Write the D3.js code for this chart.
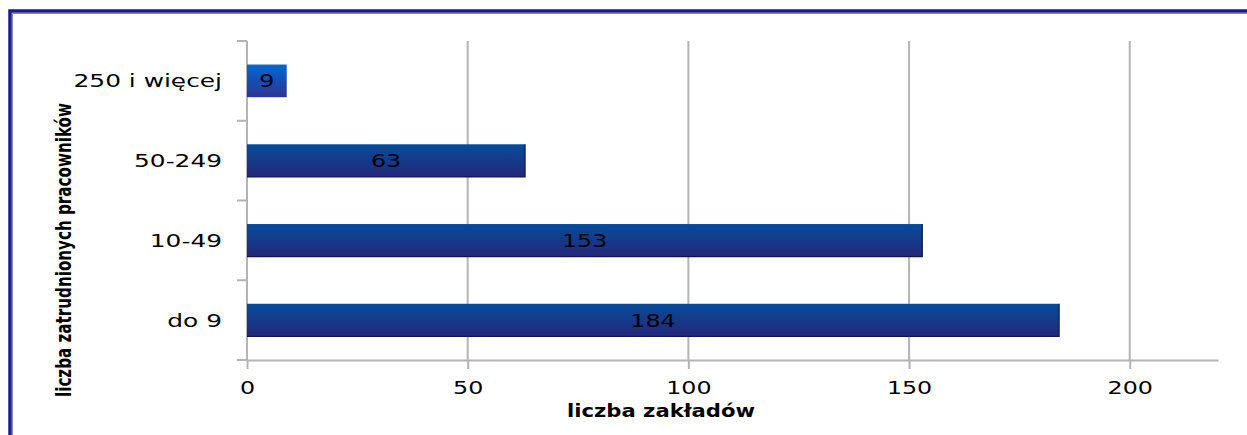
<!DOCTYPE html>
<html>
<head>
<meta charset="utf-8">
<script src="https://cdn.jsdelivr.net/npm/d3@7"></script>
<style>
  body { margin: 0; background: #fff; }
  svg { display: block; }
</style>
</head>
<body>
<div id="chart"></div>
<script>
const categories = ["do 9", "10-49", "50-249", "250 i więcej"];
const values = [184, 153, 63, 9];
const xTicks = [0, 50, 100, 150, 200];
const xTitle = "liczba zakładów";
const yTitle = "liczba zatrudnionych pracowników";

const W = 1247, H = 435;
const margin = { top: 41, right: 29, bottom: 75, left: 247 };

const svg = d3.select("#chart").append("svg")
    .attr("width", W)
    .attr("height", H);

// gradients for bars
const defs = svg.append("defs");
const g1 = defs.append("linearGradient").attr("id", "barGrad")
    .attr("x1", 0).attr("y1", 0).attr("x2", 0).attr("y2", 1);
g1.append("stop").attr("offset", "0%").attr("stop-color", "#064c9a");
g1.append("stop").attr("offset", "100%").attr("stop-color", "#25277a");
const g2 = defs.append("linearGradient").attr("id", "barGradLight")
    .attr("x1", 0).attr("y1", 0).attr("x2", 0).attr("y2", 1);
g2.append("stop").attr("offset", "0%").attr("stop-color", "#0467d2");
g2.append("stop").attr("offset", "100%").attr("stop-color", "#2b3592");

// outer frame (only left and top visible)
svg.append("path")
    .attr("d", "M10,435 V11 H1247")
    .attr("fill", "none")
    .attr("stroke", "#1c1c8c")
    .attr("stroke-width", 3.5);
svg.append("path")
    .attr("d", "M12.5,435 V13.5 H1247")
    .attr("fill", "none")
    .attr("stroke", "#8a8ab8")
    .attr("stroke-width", 1);

const x = d3.scaleLinear()
    .domain([0, 220])
    .range([margin.left, W - margin.right]);

const y = d3.scaleBand()
    .domain(categories)
    .range([H - margin.bottom, margin.top])
    .paddingInner(0.59)
    .paddingOuter(0.295);

const plotBottom = H - margin.bottom;

// labels in the reference are horizontally stretched -> widen glyphs via textLength
function labelStyle(sel, stretch) {
    sel.style("font-family", "DejaVu Sans")
        .style("font-size", "18px")
        .attr("fill", "#000")
        .each(function () {
            const len = this.getComputedTextLength();
            d3.select(this)
                .attr("textLength", len * (stretch || 1.32))
                .attr("lengthAdjust", "spacingAndGlyphs");
        });
}

// gridlines
svg.append("g")
    .selectAll("line")
    .data(xTicks.filter(d => d > 0))
    .enter()
    .append("line")
    .attr("x1", d => x(d)).attr("x2", d => x(d))
    .attr("y1", margin.top).attr("y2", plotBottom)
    .attr("stroke", "#b4b4b4")
    .attr("stroke-width", 2);

// x axis
const xAxis = svg.append("g")
    .attr("transform", "translate(0," + plotBottom + ")")
    .call(d3.axisBottom(x).tickValues(xTicks).tickSize(9).tickPadding(12).tickSizeOuter(0));
xAxis.select(".domain").attr("stroke", "#b4b4b4").attr("stroke-width", 2);
xAxis.selectAll(".tick line").attr("stroke", "#b4b4b4").attr("stroke-width", 2);
xAxis.selectAll(".tick text").call(labelStyle);

// y axis with ticks at band boundaries
const yAxisG = svg.append("g")
    .attr("transform", "translate(" + margin.left + ",0)");
yAxisG.append("line")
    .attr("x1", 0).attr("x2", 0)
    .attr("y1", margin.top).attr("y2", plotBottom)
    .attr("stroke", "#b4b4b4").attr("stroke-width", 2);
const boundaries = d3.range(categories.length + 1).map(i => plotBottom - i * (plotBottom - margin.top) / categories.length);
yAxisG.selectAll(".bt")
    .data(boundaries)
    .enter()
    .append("line")
    .attr("x1", -10).attr("x2", 0)
    .attr("y1", d => d).attr("y2", d => d)
    .attr("stroke", "#b4b4b4").attr("stroke-width", 2);
yAxisG.selectAll(".cl")
    .data(categories)
    .enter()
    .append("text")
    .attr("x", -25)
    .attr("y", d => y(d) + y.bandwidth() / 2)
    .attr("dy", "0.36em")
    .attr("text-anchor", "end")
    .text(d => d)
    .call(labelStyle, 1.38);

// bars
const data = categories.map((c, i) => ({ cat: c, val: values[i] }));
svg.append("g")
    .selectAll("rect")
    .data(data)
    .enter()
    .append("rect")
    .attr("x", x(0))
    .attr("y", d => y(d.cat))
    .attr("width", d => x(d.val) - x(0))
    .attr("height", y.bandwidth())
    .attr("fill", d => d.val < 20 ? "url(#barGradLight)" : "url(#barGrad)");

// dark right/bottom edge
svg.append("g")
    .selectAll("path")
    .data(data.filter(d => d.val >= 20))
    .enter()
    .append("path")
    .attr("d", d => "M" + x(0) + "," + (y(d.cat) + y.bandwidth()) + " H" + x(d.val) + " V" + y(d.cat))
    .attr("fill", "none")
    .attr("stroke", "#101840")
    .attr("stroke-width", 1.2);

// value labels
svg.append("g")
    .selectAll("text")
    .data(data)
    .enter()
    .append("text")
    .attr("x", d => (x(0) + x(d.val)) / 2)
    .attr("y", d => y(d.cat) + y.bandwidth() / 2)
    .attr("dy", "0.36em")
    .attr("text-anchor", "middle")
    .text(d => d.val)
    .call(labelStyle);

// axis titles
svg.append("text")
    .attr("x", 661)
    .attr("y", 417)
    .attr("text-anchor", "middle")
    .attr("textLength", 188)
    .attr("lengthAdjust", "spacingAndGlyphs")
    .style("font-family", "DejaVu Sans")
    .style("font-weight", "bold")
    .style("font-size", "18px")
    .text(xTitle);

svg.append("text")
    .attr("transform", "translate(71,250) rotate(-90)")
    .attr("text-anchor", "middle")
    .attr("textLength", 294)
    .attr("lengthAdjust", "spacingAndGlyphs")
    .style("font-family", "DejaVu Sans")
    .style("font-weight", "bold")
    .style("font-size", "21px")
    .text(yTitle);
</script>
</body>
</html>
